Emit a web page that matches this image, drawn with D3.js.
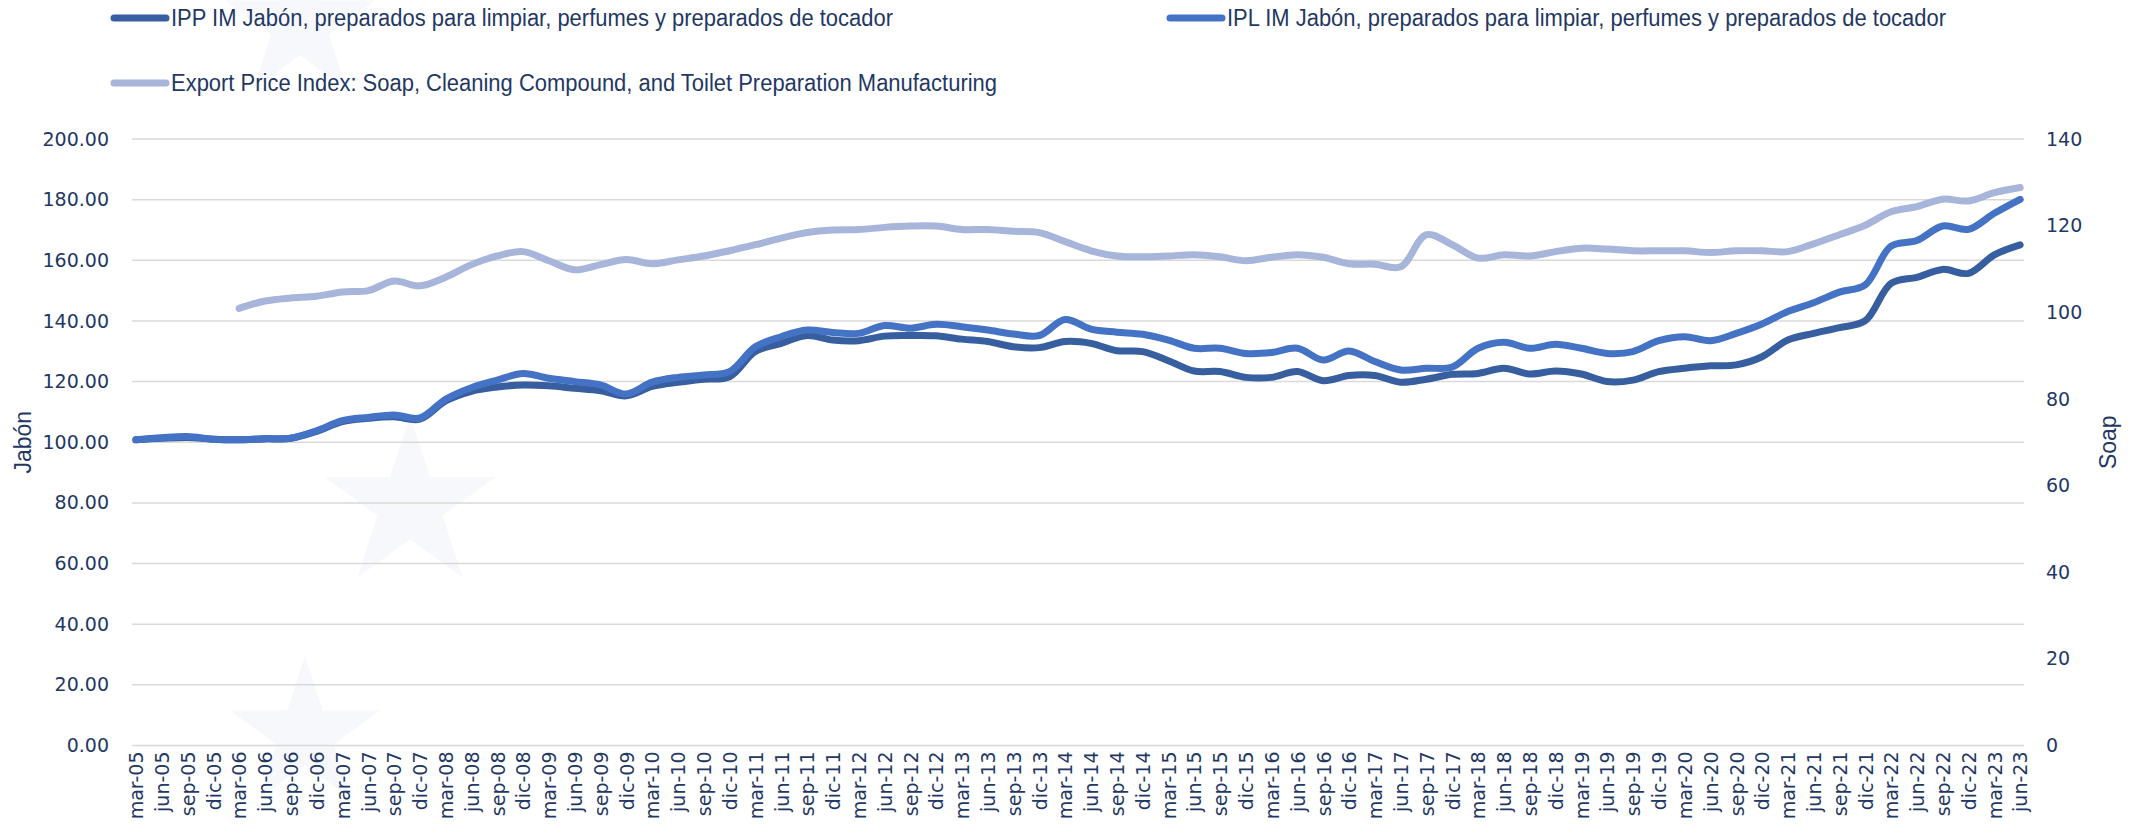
<!DOCTYPE html>
<html>
<head>
<meta charset="utf-8">
<script src="https://cdn.jsdelivr.net/npm/d3@7"></script>
<style>
  body { margin: 0; background: #fff; }
  svg { display: block; }
</style>
</head>
<body>
<div id="chart"></div>
<script>
var width = 2142;
var height = 835;

// quarterly labels, mar-05 .. jun-23
var categories = [
  "mar-05","jun-05","sep-05","dic-05","mar-06","jun-06","sep-06","dic-06",
  "mar-07","jun-07","sep-07","dic-07","mar-08","jun-08","sep-08","dic-08",
  "mar-09","jun-09","sep-09","dic-09","mar-10","jun-10","sep-10","dic-10",
  "mar-11","jun-11","sep-11","dic-11","mar-12","jun-12","sep-12","dic-12",
  "mar-13","jun-13","sep-13","dic-13","mar-14","jun-14","sep-14","dic-14",
  "mar-15","jun-15","sep-15","dic-15","mar-16","jun-16","sep-16","dic-16",
  "mar-17","jun-17","sep-17","dic-17","mar-18","jun-18","sep-18","dic-18",
  "mar-19","jun-19","sep-19","dic-19","mar-20","jun-20","sep-20","dic-20",
  "mar-21","jun-21","sep-21","dic-21","mar-22","jun-22","sep-22","dic-22",
  "mar-23","jun-23"
];

// IPP IM (left axis)
var ipp = [
  100.8,101.3,101.6,101.0,100.8,101.1,101.3,103.6,106.8,107.9,
  108.4,107.6,113.6,116.8,118.2,118.9,118.6,117.8,117.0,115.3,
  118.4,119.8,120.8,121.6,129.9,132.6,135.2,133.7,133.5,135.0,
  135.2,135.1,134.0,133.2,131.5,131.2,133.2,132.6,130.2,129.9,
  126.9,123.5,123.3,121.4,121.4,123.3,120.3,122.0,122.0,119.8,
  120.8,122.4,122.7,124.4,122.5,123.5,122.5,120.0,120.5,123.3,
  124.4,125.2,125.5,128.2,133.7,135.9,137.8,140.1,152.4,154.4,
  157.0,155.7,161.8,165.1
];

// IPL IM (left axis)
var ipl = [
  100.8,101.5,101.9,101.0,100.8,101.2,101.3,103.8,107.1,108.2,
  109.0,108.0,114.2,118.0,120.5,122.7,121.1,120.0,118.9,115.9,
  119.8,121.4,122.2,123.3,131.5,134.8,137.0,136.2,135.9,138.5,
  137.6,138.9,138.1,137.0,135.7,135.2,140.5,137.3,136.3,135.6,
  133.7,131.0,131.0,129.3,129.6,131.0,127.1,130.1,126.6,123.8,
  124.4,124.8,131.0,133.0,131.0,132.3,131.0,129.3,129.9,133.5,
  134.8,133.5,135.9,139.0,143.1,146.0,149.5,151.9,164.7,166.5,
  171.3,170.2,175.5,180.1
];

// Export Price Index (right axis), starts mar-06
var exportIdx = [
  null,null,null,null,100.9,102.6,103.3,103.7,104.7,105.0,
  107.2,106.1,108.1,111.0,113.0,114.0,111.9,109.8,111.0,112.2,
  111.2,112.1,113.0,114.2,115.6,117.1,118.4,119.0,119.1,119.6,
  119.9,119.9,119.1,119.1,118.7,118.4,116.3,114.2,113.0,112.8,
  113.0,113.3,112.8,111.9,112.7,113.3,112.7,111.2,111.1,110.5,
  117.9,115.6,112.5,113.3,113.0,114.0,114.8,114.6,114.2,114.2,
  114.2,113.8,114.2,114.2,114.0,115.8,117.9,120.1,123.2,124.4,
  126.1,125.7,127.6,128.8
];

var leftTicks = [0,20,40,60,80,100,120,140,160,180,200];
var rightTicks = [0,20,40,60,80,100,120,140];

var textColor = "#1f3864";
var colIPP = "#375e9f";
var colIPL = "#4472c4";
var colExp = "#a7b5da";

var plot = { left: 132, right: 2024, top: 139, bottom: 745.5 };

var svg = d3.select("#chart")
  .append("svg")
  .attr("width", width)
  .attr("height", height);

svg.append("rect")
  .attr("width", "100%")
  .attr("height", "100%")
  .attr("fill", "white");

// faint watermark stars in the background
var star = d3.symbol().type(d3.symbolStar);
[[410, 505, 9000], [300, 25, 7000], [305, 735, 7000]].forEach(function(s) {
  svg.append("path")
    .attr("d", star.size(s[2])())
    .attr("transform", "translate(" + s[0] + "," + s[1] + ")")
    .attr("fill", "#f7f8fc");
});

var x = d3.scalePoint()
  .domain(categories)
  .range([plot.left, plot.right])
  .padding(0.15);

var yL = d3.scaleLinear().domain([0, 200]).range([plot.bottom, plot.top]);
var yR = d3.scaleLinear().domain([0, 140]).range([plot.bottom, plot.top]);

// gridlines
svg.append("g")
  .selectAll("line")
  .data(leftTicks)
  .enter()
  .append("line")
  .attr("x1", plot.left)
  .attr("x2", plot.right)
  .attr("y1", function(d) { return yL(d); })
  .attr("y2", function(d) { return yL(d); })
  .attr("stroke", "#d9d9d9")
  .attr("stroke-width", 1.5);

// left axis
var leftAxis = svg.append("g")
  .attr("transform", "translate(" + (plot.left - 23) + ",0)")
  .call(d3.axisLeft(yL).tickValues(leftTicks).tickFormat(d3.format(".2f")).tickSize(0).tickPadding(0));
leftAxis.select(".domain").remove();

// right axis
var rightAxis = svg.append("g")
  .attr("transform", "translate(" + (plot.right + 22) + ",0)")
  .call(d3.axisRight(yR).tickValues(rightTicks).tickSize(0).tickPadding(0));
rightAxis.select(".domain").remove();

svg.selectAll(".tick text")
  .style("font-family", "DejaVu Sans, Verdana, sans-serif")
  .style("font-size", "19px")
  .attr("fill", textColor);

// x axis labels, rotated
var xAxis = svg.append("g")
  .attr("transform", "translate(0," + (plot.bottom + 6) + ")")
  .call(d3.axisBottom(x).tickSize(0).tickPadding(0));
xAxis.select(".domain").remove();
xAxis.selectAll("text")
  .attr("transform", "rotate(-90)")
  .attr("x", 0)
  .attr("y", 0)
  .attr("dy", "0.36em")
  .style("text-anchor", "end")
  .style("font-family", "DejaVu Sans, Verdana, sans-serif")
  .style("font-size", "19px")
  .attr("fill", textColor);

// axis titles
svg.append("text")
  .attr("transform", "translate(23," + ((plot.top + plot.bottom) / 2) + ") rotate(-90)")
  .attr("text-anchor", "middle")
  .attr("dy", "0.35em")
  .style("font-family", "Liberation Sans Narrow, Arial Narrow, sans-serif")
  .style("font-size", "23px")
  .attr("fill", textColor)
  .text("Jabón");

svg.append("text")
  .attr("transform", "translate(2108," + ((plot.top + plot.bottom) / 2) + ") rotate(-90)")
  .attr("text-anchor", "middle")
  .attr("dy", "0.35em")
  .style("font-family", "Liberation Sans Narrow, Arial Narrow, sans-serif")
  .style("font-size", "23px")
  .attr("fill", textColor)
  .text("Soap");

// lines
var lineL = d3.line()
  .defined(function(d) { return d != null; })
  .x(function(d, i) { return x(categories[i]); })
  .y(function(d) { return yL(d); })
  .curve(d3.curveCatmullRom.alpha(0.5));

var lineR = d3.line()
  .defined(function(d) { return d != null; })
  .x(function(d, i) { return x(categories[i]); })
  .y(function(d) { return yR(d); })
  .curve(d3.curveCatmullRom.alpha(0.5));

var series = [
  { data: ipp, line: lineL, color: colIPP },
  { data: ipl, line: lineL, color: colIPL },
  { data: exportIdx, line: lineR, color: colExp }
];

series.forEach(function(s) {
  svg.append("path")
    .datum(s.data)
    .attr("d", s.line)
    .attr("fill", "none")
    .attr("stroke", s.color)
    .attr("stroke-width", 7)
    .attr("stroke-linecap", "round")
    .attr("stroke-linejoin", "round");
});

// legend
var legendItems = [
  { label: "IPP IM Jabón, preparados para limpiar, perfumes y preparados de tocador", color: colIPP, x: 114, y: 18, w: 722 },
  { label: "IPL IM Jabón, preparados para limpiar, perfumes y preparados de tocador", color: colIPL, x: 1170, y: 18, w: 719 },
  { label: "Export Price Index: Soap, Cleaning Compound, and Toilet Preparation Manufacturing", color: colExp, x: 114, y: 83, w: 826 }
];

var legend = svg.append("g")
  .selectAll("g")
  .data(legendItems)
  .enter()
  .append("g")
  .attr("transform", function(d) { return "translate(" + d.x + "," + d.y + ")"; });

legend.append("line")
  .attr("x1", 0)
  .attr("x2", 52)
  .attr("stroke", function(d) { return d.color; })
  .attr("stroke-width", 7)
  .attr("stroke-linecap", "round");

legend.append("text")
  .attr("x", 57)
  .attr("dy", "0.35em")
  .attr("textLength", function(d) { return d.w; })
  .attr("lengthAdjust", "spacingAndGlyphs")
  .style("font-family", "Liberation Sans Narrow, Arial Narrow, sans-serif")
  .style("font-size", "23px")
  .attr("fill", textColor)
  .text(function(d) { return d.label; });
</script>
</body>
</html>
